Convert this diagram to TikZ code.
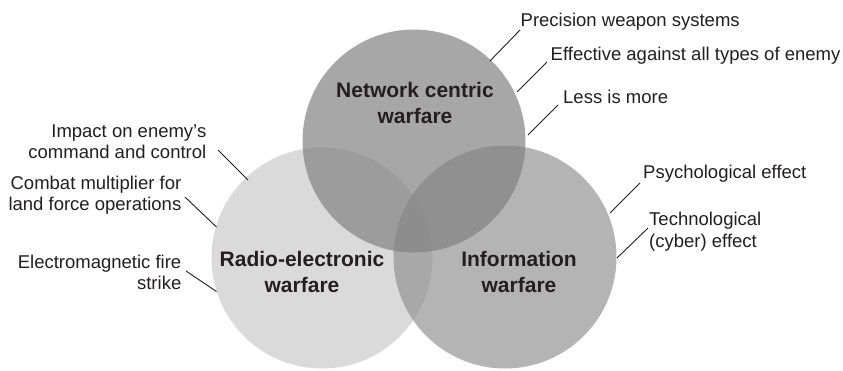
\documentclass[tikz,border=0pt]{standalone}
\usepackage{fontspec}
\setmainfont{Liberation Sans}
\begin{document}
\begin{tikzpicture}[x=1pt,y=-1pt,
  lbl/.style={inner sep=0pt,text=txt,font=\fontsize{18.5}{21}\selectfont},
  big/.style={inner sep=0pt,text=txt,font=\fontsize{21}{25}\selectfont\bfseries,anchor=base},
  conn/.style={draw=txt,line width=0.9pt}]
\definecolor{txt}{HTML}{231F20}
\definecolor{cleft}{gray}{0.855}
\definecolor{cright}{gray}{0.57}
\definecolor{ctop}{gray}{0.51}
\useasboundingbox (0,0) rectangle (843,370);
\fill[white] (0,0) rectangle (843,370);
% circles
\fill[cleft] (322,258) circle (110.5);
\fill[cright,fill opacity=0.68] (505,257) circle (111.5);
\fill[ctop,fill opacity=0.70] (414,141) circle (111.5);
% circle titles
\node[big] (nc1) at (415,97.7) {Network centric};
\node[big] (nc2) at (415,123.3) {warfare};
\node[big] (re1) at (302,266.7) {Radio-electronic};
\node[big] (re2) at (302,292.7) {warfare};
\node[big] (iw1) at (519,266.7) {Information};
\node[big] (iw2) at (519,292.7) {warfare};
% right labels
\node[lbl,anchor=base west] (prec) at (520.5,26.5) {Precision weapon systems};
\node[lbl,anchor=base west] (eff) at (550.5,60) {Effective against all types of enemy};
\node[lbl,anchor=base west] (less) at (563,103) {Less is more};
\node[lbl,anchor=base west] (psy) at (643,178) {Psychological effect};
\node[lbl,anchor=base west] (tech1) at (649,225) {Technological};
\node[lbl,anchor=base west] (tech2) at (649,247) {(cyber) effect};
% left labels
\node[lbl,anchor=base east] (imp1) at (206.5,137.3) {Impact on enemy’s};
\node[lbl,anchor=base east] (imp2) at (206.5,158.3) {command and control};
\node[lbl,anchor=base east] (com1) at (181.5,189.3) {Combat multiplier for};
\node[lbl,anchor=base east] (com2) at (181.5,210.3) {land force operations};
\node[lbl,anchor=base east] (ele1) at (181.5,268.3) {Electromagnetic fire};
\node[lbl,anchor=base east] (ele2) at (181.5,289) {strike};
% connector ends
\coordinate (precA) at (490,61);   \coordinate (precB) at (520,30);
\coordinate (effA) at (517,92);    \coordinate (effB) at (547,62);
\coordinate (lessA) at (528,135);  \coordinate (lessB) at (558,105);
\coordinate (psyA) at (610,213);   \coordinate (psyB) at (640,183);
\coordinate (techA) at (617,258);  \coordinate (techB) at (648,228);
\coordinate (impA) at (218,150);   \coordinate (impB) at (248,180);
\coordinate (comA) at (185,197);   \coordinate (comB) at (216.5,227);
\coordinate (eleA) at (186,271);   \coordinate (eleB) at (216.5,291.5);
\draw[conn] (precA) -- (precB);
\draw[conn] (effA) -- (effB);
\draw[conn] (lessA) -- (lessB);
\draw[conn] (psyA) -- (psyB);
\draw[conn] (techA) -- (techB);
\draw[conn] (impA) -- (impB);
\draw[conn] (comA) -- (comB);
\draw[conn] (eleA) -- (eleB);
\end{tikzpicture}
\end{document}
